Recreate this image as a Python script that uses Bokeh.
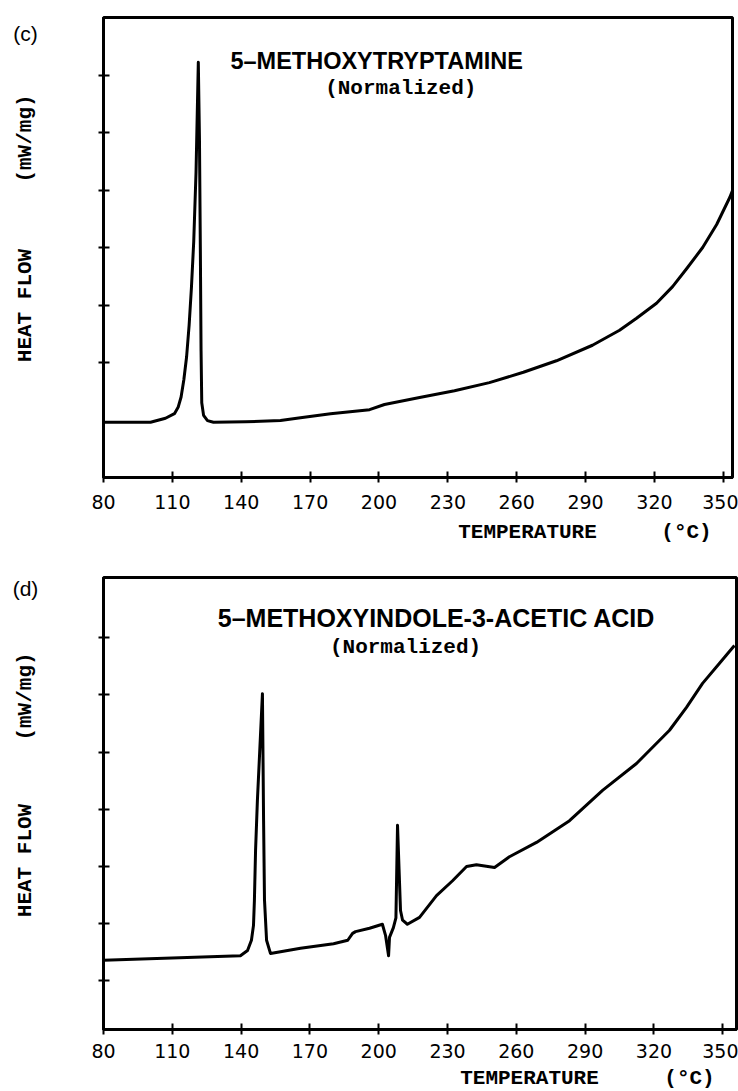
from bokeh.plotting import figure
from bokeh.layouts import column, row
from bokeh.models import Label, FixedTicker, CustomJSTickFormatter, Range1d
from bokeh.embed import file_html
from bokeh.resources import INLINE

# ---------------- data ----------------
temp_ticks = [80, 110, 140, 170, 200, 230, 260, 290, 320, 350]
c_yticks = [2, 3, 4, 5, 6, 7]
d_yticks = [1, 2, 3, 4, 5, 6, 7]

title_c = "5–METHOXYTRYPTAMINE"
title_d = "5–METHOXYINDOLE-3-ACETIC ACID"
subtitle = "(Normalized)"
x_title = "TEMPERATURE"
x_unit = "(°C)"
y_title = "HEAT FLOW"
y_unit = "(mW/mg)"

# (c) 5-methoxytryptamine
c_temp = [80.0, 100.5, 107.0, 110.9, 112.5, 113.8, 115.0, 116.2, 117.3, 118.3,
          119.3, 120.3, 121.3, 121.8, 122.2, 122.5, 122.8, 123.6, 125.3, 127.9,
          141.9, 157.1, 165.8, 178.9, 195.9, 202.4, 217.7, 232.9, 248.1, 262.9,
          277.3, 293.0, 304.8, 312.2, 320.9, 327.9, 334.0, 341.0, 347.1, 352.8,
          354.0]
c_flow = [0.96, 0.96, 1.03, 1.11, 1.22, 1.40, 1.70, 2.10, 2.65, 3.30,
          4.10, 5.30, 7.22, 5.90, 3.90, 2.20, 1.30, 1.08, 0.99, 0.96,
          0.97, 0.99, 1.04, 1.11, 1.18, 1.27, 1.39, 1.51, 1.65, 1.83,
          2.03, 2.30, 2.56, 2.77, 3.03, 3.32, 3.63, 4.00, 4.40, 4.87,
          4.99]

# (d) 5-methoxyindole-3-acetic acid
d_temp = [80.0, 139.7, 142.8, 144.5, 145.4, 145.8, 146.3, 147.1, 149.3, 149.8,
          150.2, 151.1, 152.8, 165.9, 180.3, 186.5, 188.6, 189.9, 196.0, 201.6,
          203.0, 204.3, 204.7, 206.4, 207.5, 208.2, 209.5, 210.4, 212.5, 217.8,
          225.2, 232.2, 238.3, 242.6, 250.5, 257.0, 268.8, 283.2, 297.6, 312.4,
          326.8, 334.2, 341.2, 348.6, 355.1]
d_flow = [1.36, 1.44, 1.53, 1.71, 1.97, 2.41, 3.28, 4.15, 6.02, 3.80,
          2.41, 1.71, 1.48, 1.57, 1.65, 1.71, 1.83, 1.86, 1.92, 1.99,
          1.79, 1.44, 1.76, 1.93, 2.10, 3.72, 2.23, 2.06, 1.99, 2.11,
          2.49, 2.75, 3.00, 3.03, 2.98, 3.17, 3.42, 3.80, 4.33, 4.80,
          5.38, 5.78, 6.20, 6.55, 6.86]

MONO = "Liberation Mono"
SANS = "Liberation Sans"
SIDE_W = 50
PAGE_W = 738


def make_panel(height, x_end, y_start, y_end, border_top, border_bottom,
               border_right, yticks, xs, ys, standoff):
    p = figure(width=PAGE_W - SIDE_W, height=height, output_backend="svg",
               toolbar_location=None, title=None,
               x_range=Range1d(80, x_end), y_range=Range1d(y_start, y_end),
               min_border_left=103 - SIDE_W, min_border_right=border_right,
               min_border_top=border_top, min_border_bottom=border_bottom)
    p.grid.visible = False
    p.background_fill_color = "white"
    p.border_fill_color = "white"
    p.outline_line_color = "black"
    p.outline_line_width = 3
    p.outline_line_alpha = 1.0

    for ax in (p.xaxis, p.yaxis):
        ax.axis_line_width = 3
        ax.axis_line_color = "black"
        ax.major_tick_in = 6
        ax.major_tick_out = 5
        ax.major_tick_line_width = 2
        ax.major_tick_line_color = "black"
        ax.minor_tick_line_color = None

    p.xaxis.ticker = FixedTicker(ticks=temp_ticks)
    p.xaxis.major_label_text_font = "DejaVu Sans"
    p.xaxis.major_label_text_font_size = "19px"
    p.xaxis.major_label_text_color = "black"
    p.xaxis.major_label_standoff = standoff

    p.yaxis.ticker = FixedTicker(ticks=yticks)
    p.yaxis.formatter = CustomJSTickFormatter(code="return ''")

    p.line(xs, ys, line_color="black", line_width=3, line_join="round")
    return p


def make_side_fig(height, border_top, border_bottom, frame_top, frame_bottom):
    """Blank strip left of a panel; same vertical frame as the panel.
    Its y data units are negative page pixels (y = -page_y)."""
    f = figure(width=SIDE_W, height=height, output_backend="svg",
               toolbar_location=None, title=None,
               x_range=Range1d(0, SIDE_W),
               y_range=Range1d(-frame_bottom, -frame_top),
               min_border_left=0, min_border_right=0,
               min_border_top=border_top, min_border_bottom=border_bottom,
               x_axis_location=None, y_axis_location=None)
    f.grid.visible = False
    f.outline_line_color = None
    f.background_fill_color = "white"
    f.border_fill_color = "white"
    return f


def make_strip_fig(width, height):
    """Blank strip whose frame is the whole figure; data units = pixels."""
    f = figure(width=width, height=height, output_backend="svg",
               toolbar_location=None, title=None, x_range=Range1d(0, width),
               y_range=Range1d(0, height), min_border=0,
               x_axis_location=None, y_axis_location=None)
    f.grid.visible = False
    f.outline_line_color = None
    f.background_fill_color = "white"
    f.border_fill_color = "white"
    return f


def add_label(p, x, y, text, font, size, style="bold", angle=0.0):
    p.add_layout(Label(x=x, y=y, text=text, text_font=font,
                       text_font_size=size, text_font_style=style,
                       text_color="black", text_align="center",
                       text_baseline="middle", angle=angle))


# ---------- panel (c) ----------  page frame: x 103..732, y 17..477
HC = 517
pc = make_panel(HC, 354, 0, 8, 17, HC - 477, 6, c_yticks, c_temp, c_flow, 12)
add_label(pc, 199.0, 7.25, title_c, SANS, "23.5px")
add_label(pc, 209.5, 6.77, subtitle, MONO, "21px")

side_c = make_side_fig(HC, 17, HC - 477, 17, 477)
add_label(side_c, 25, -33, "(c)", SANS, "21px", style="normal")
add_label(side_c, 25, -138, y_unit, MONO, "21px", angle=1.5708)
add_label(side_c, 25, -305, y_title, MONO, "21px", angle=1.5708)

SC = 555 - HC
strip_c = make_strip_fig(PAGE_W, SC)
add_label(strip_c, 527, 555 - 532, x_title, MONO, "21px")
add_label(strip_c, 686, 555 - 532, x_unit, MONO, "21px")

# ---------- panel (d) ----------  page frame: x 103..736, y 577..1029
TOP_D = 555
HD = 509
pd_ = make_panel(HD, 356, 0.15, 8.05, 577 - TOP_D, TOP_D + HD - 1029, 2,
                 d_yticks, d_temp, d_flow, 9)
add_label(pd_, 225.2, 7.35, title_d, SANS, "25px")
add_label(pd_, 211.7, 6.83, subtitle, MONO, "21px")

side_d = make_side_fig(HD, 577 - TOP_D, TOP_D + HD - 1029, 577, 1029)
add_label(side_d, 25, -588, "(d)", SANS, "21px", style="normal")
add_label(side_d, 25, -696, y_unit, MONO, "21px", angle=1.5708)
add_label(side_d, 25, -860, y_title, MONO, "21px", angle=1.5708)

SD = 1091 - (TOP_D + HD)
strip_d = make_strip_fig(PAGE_W, SD)
add_label(strip_d, 529, 1091 - 1078, x_title, MONO, "21px")
add_label(strip_d, 689, 1091 - 1078, x_unit, MONO, "21px")

layout = column(row(side_c, pc, spacing=0), strip_c,
                row(side_d, pd_, spacing=0), strip_d, spacing=0)
open("out.html", "w").write(file_html(layout, INLINE))
